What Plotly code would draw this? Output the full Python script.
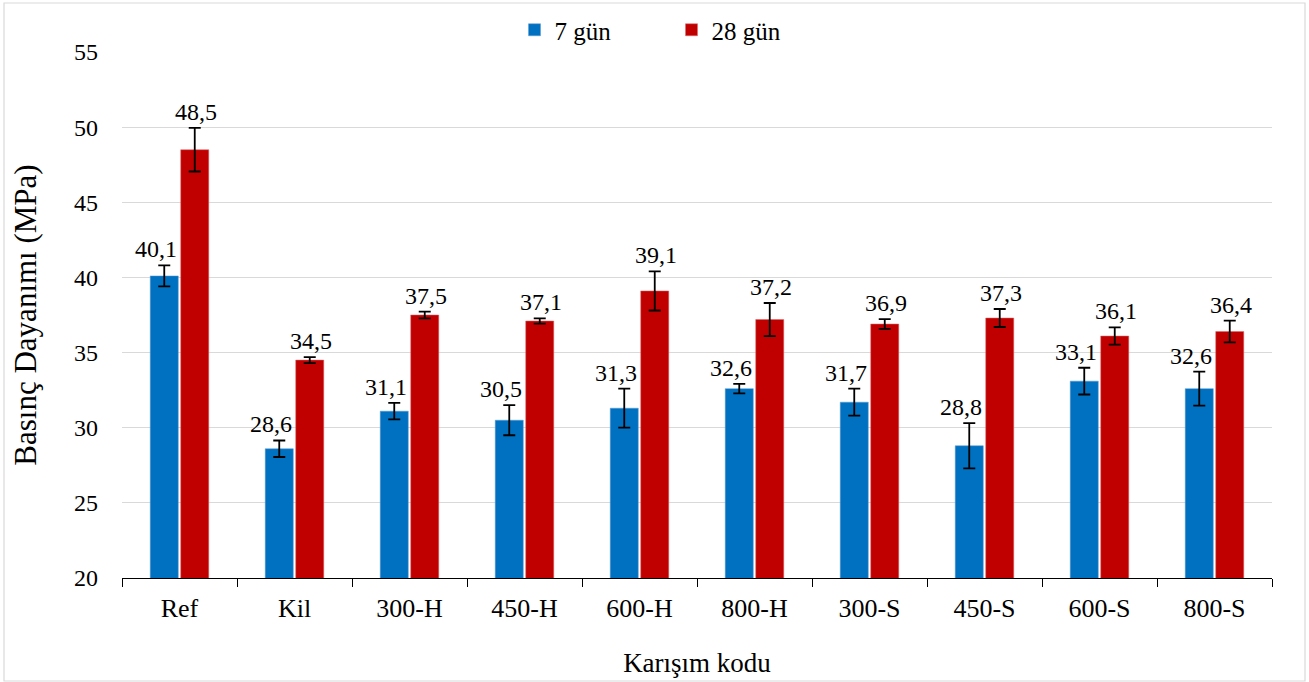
import plotly.graph_objects as go

categories = ["Ref", "Kil", "300-H", "450-H", "600-H", "800-H", "300-S", "450-S", "600-S", "800-S"]
gun7 = [40.1, 28.6, 31.1, 30.5, 31.3, 32.6, 31.7, 28.8, 33.1, 32.6]
gun28 = [48.5, 34.5, 37.5, 37.1, 39.1, 37.2, 36.9, 37.3, 36.1, 36.4]
err7 = [0.7, 0.55, 0.55, 1.0, 1.3, 0.32, 0.9, 1.5, 0.89, 1.13]
err28 = [1.45, 0.2, 0.22, 0.17, 1.3, 1.1, 0.32, 0.6, 0.57, 0.72]

FONT = "Liberation Serif"

def lab(v):
    return [f"{x:.1f}".replace(".", ",") for x in v]

fig = go.Figure()
fig.add_trace(go.Bar(
    x=categories, y=gun7, name="7 gün", marker_color="#0070C0",
    marker_line=dict(color="#5b9bd5", width=0.5),
    error_y=dict(type="data", array=err7, color="black", thickness=1.8, width=6),
))
fig.add_trace(go.Bar(
    x=categories, y=gun28, name="28 gün", marker_color="#C00000",
    marker_line=dict(color="#e06666", width=0.5),
    error_y=dict(type="data", array=err28, color="black", thickness=1.8, width=6),
))

# data labels sit just above the top of each error bar
for c, v, e, t in zip(categories, gun7, err7, lab(gun7)):
    fig.add_annotation(x=c, y=v + e, text=t, showarrow=False, xshift=-24, yshift=16,
                       yanchor="middle", font=dict(family=FONT, size=24, color="black"))
for c, v, e, t in zip(categories, gun28, err28, lab(gun28)):
    fig.add_annotation(x=c, y=v + e, text=t, showarrow=False, xshift=16, yshift=16,
                       yanchor="middle", font=dict(family=FONT, size=24, color="black"))

fig.update_layout(
    width=1309, height=682,
    margin=dict(l=122, r=37, t=52, b=104, autoexpand=False),
    paper_bgcolor="white", plot_bgcolor="white",
    barmode="group", bargap=0.47, bargroupgap=0.08,
    font=dict(family=FONT, size=24, color="black"),
    legend=dict(orientation="h", x=0.513, xref="container", xanchor="center",
                y=1 - 30 / 682, yref="container", yanchor="middle",
                font=dict(family=FONT, size=25), itemwidth=30, entrywidth=112,
                traceorder="normal", bgcolor="rgba(0,0,0,0)"),
    showlegend=True,
)
fig.update_xaxes(
    showline=True, linecolor="black", linewidth=1.2,
    ticks="outside", tickson="boundaries", ticklen=8, tickcolor="black",
    ticklabelstandoff=7, tickfont=dict(family=FONT, size=26),
    title=dict(text="Karışım kodu", font=dict(family=FONT, size=27), standoff=30),
    showgrid=False,
)
fig.update_yaxes(
    range=[20, 55], dtick=5, showgrid=True, gridcolor="#d9d9d9", gridwidth=1.2,
    showline=False, zeroline=False, ticks="", ticklabelstandoff=23,
    tickfont=dict(family=FONT, size=24),
    title=dict(text="Basınç Dayanımı (MPa)", font=dict(family=FONT, size=31), standoff=28),
)
fig.add_shape(type="rect", xref="paper", yref="paper",
              x0=(4 - 122) / 1150, x1=(1305 - 122) / 1150,
              y0=(578 - 681) / 526, y1=(578 - 3) / 526,
              line=dict(color="#d9d9d9", width=1.2), layer="below")

fig.write_html("out.html", config={"displayModeBar": False},
               post_script="document.body.style.margin='0';document.body.style.overflow='hidden';")
